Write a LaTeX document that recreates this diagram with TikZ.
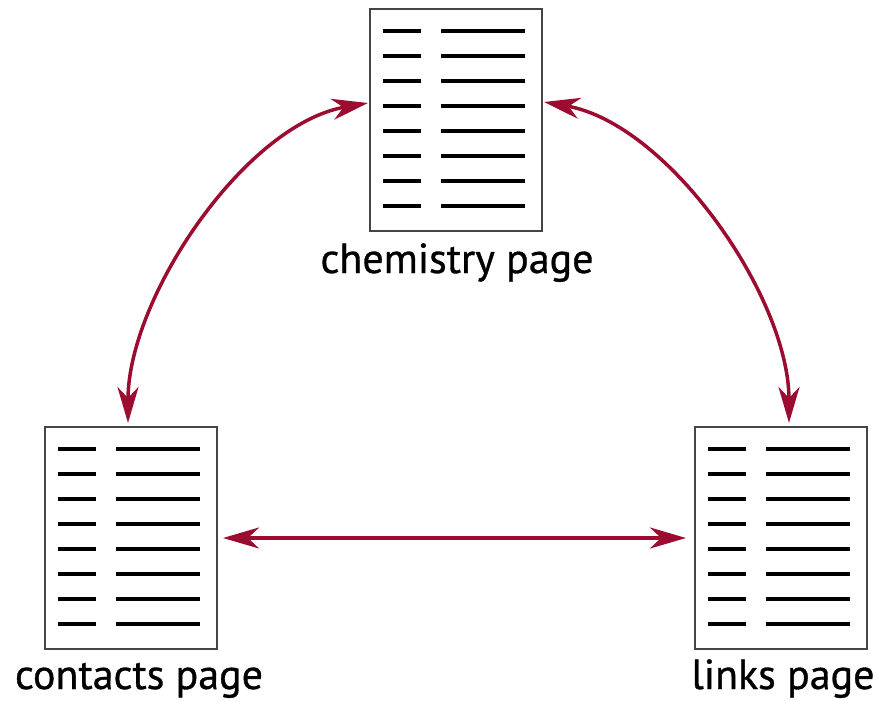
\documentclass[tikz,border=0pt]{standalone}
\usepackage{fontspec}
\setmainfont[FakeBold=0.8]{PT Sans}
\usetikzlibrary{arrows.meta,calc}
\definecolor{arrowred}{RGB}{155,12,48}
\definecolor{framegray}{RGB}{70,70,70}
\begin{document}
\begin{tikzpicture}[x=1pt,y=-1pt,
  pagebox/.style={draw=framegray,line width=2pt,fill=white,minimum width=172pt,minimum height=222pt,inner sep=0pt},
  textline/.style={line width=3.8pt,black},
  pagelabel/.style={anchor=base,inner sep=0pt,font=\fontsize{42}{44}\selectfont},
  link/.style={arrowred,line width=3.5pt,{Stealth[length=36pt,width=21pt,inset=11pt]}-{Stealth[length=36pt,width=21pt,inset=11pt]}}]
\useasboundingbox (0,0) rectangle (879,701);
\node[pagebox] (chem) at (456,120) {};
\node[pagebox] (contacts) at (131,538) {};
\node[pagebox] (links) at (781,538) {};
\foreach \n in {chem,contacts,links}{
  \foreach \i in {0,...,7}{
    \draw[textline] ([shift={(14,23+25*\i)}]\n.north west) -- ++(38,0);
    \draw[textline] ([shift={(72,23+25*\i)}]\n.north west) -- ++(84,0);
  }
}
\node[pagelabel] (chemlabel) at ([shift={(1,41)}]chem.south) {chemistry page};
\node[pagelabel] (contactslabel) at ([shift={(8,39)}]contacts.south) {contacts page};
\node[pagelabel] (linkslabel) at ([shift={(2,39)}]links.south) {links page};
\coordinate (chemL) at ([shift={(-1,-17)}]chem.west);
\coordinate (chemR) at ([shift={(1,-18)}]chem.east);
\coordinate (contT) at ([shift={(-3,-3)}]contacts.north);
\coordinate (linkT) at ([shift={(8,-3)}]links.north);
\draw[link] (contT) to[out=90,in=190,looseness=0.8] (chemL);
\draw[link] (chemR) to[out=-10,in=90,looseness=0.8] (linkT);
\draw[link,shorten <=5pt,shorten >=8pt] (contacts.east) -- (links.west);
\end{tikzpicture}
\end{document}
